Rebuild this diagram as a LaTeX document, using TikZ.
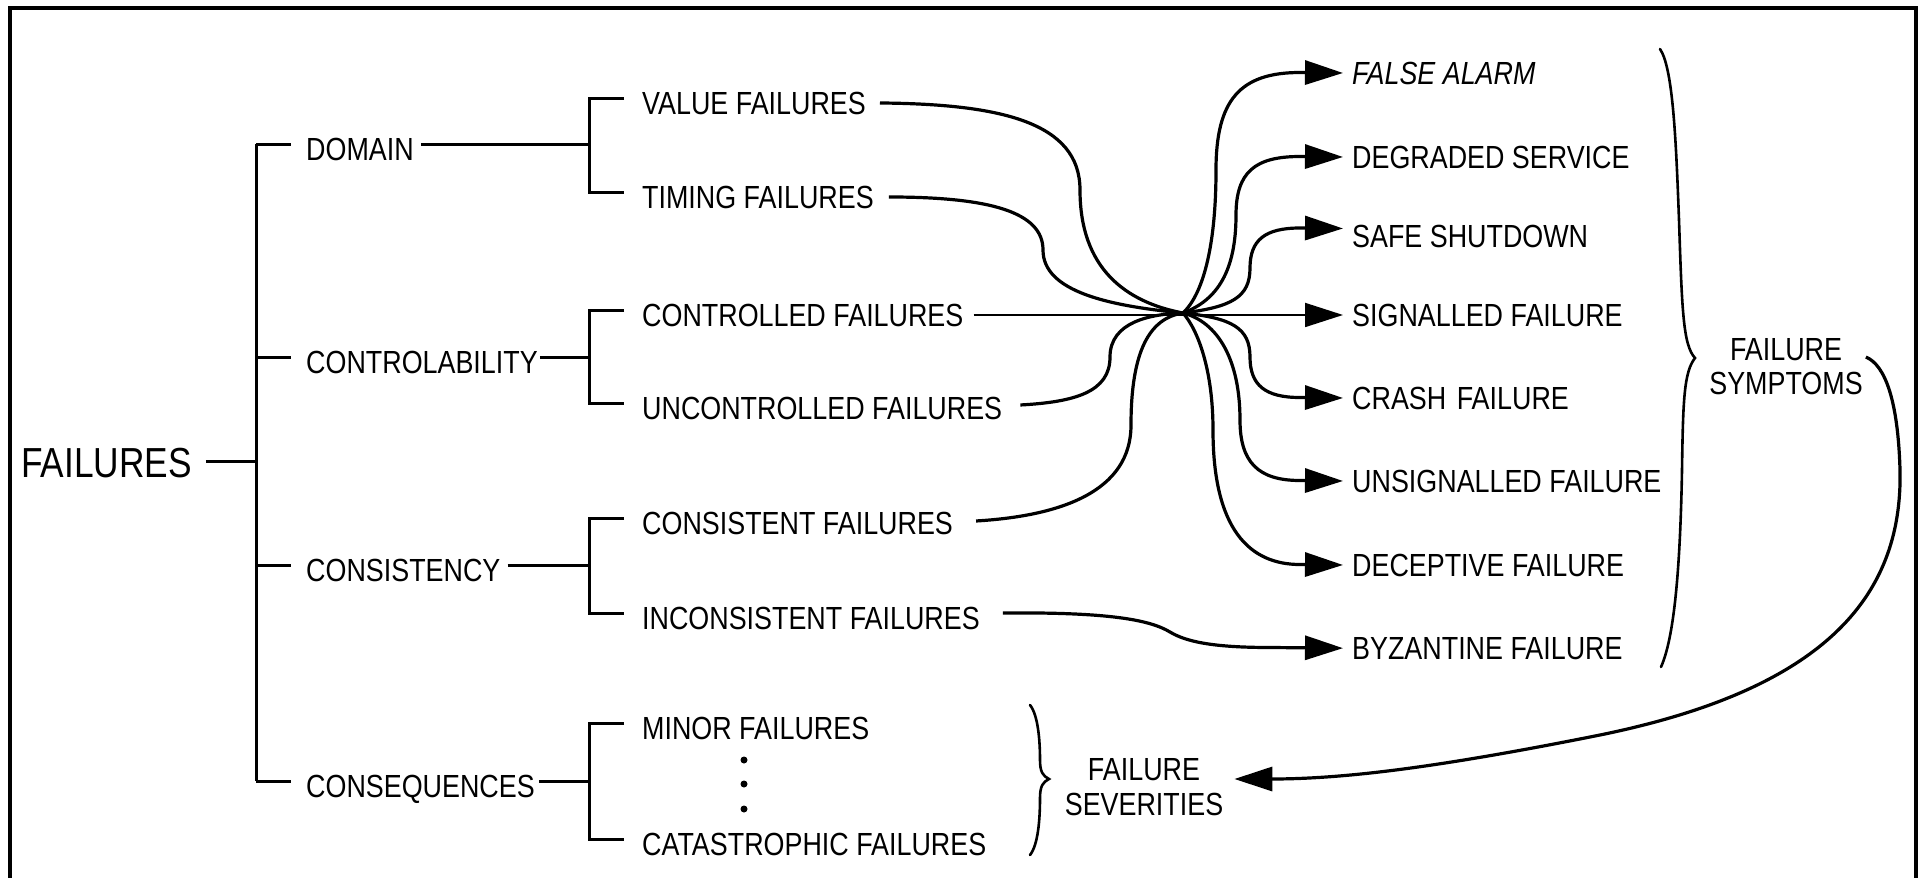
\documentclass[tikz,border=0pt]{standalone}
\usepackage{fontspec}
\setmainfont{Liberation Sans}[FakeStretch=0.84]
\usetikzlibrary{arrows.meta}
\begin{document}
\begin{tikzpicture}[x=1pt,y=-1pt,
  lbl/.style={inner sep=0pt, anchor=base west, font=\fontsize{32}{34}\selectfont},
  tree/.style={line width=3pt},
  flow/.style={line width=3.2pt},
  tip/.style={-{Triangle[length=38pt,width=24pt]}},
  brace/.style={line width=2.6pt, line cap=round},
]
\useasboundingbox (0,0) rectangle (1923,878);
\fill[white] (0,0) rectangle (1923,878);
% outer frame (open at the bottom edge)
\draw[line width=3.5pt] (10,878) -- (10,8) -- (1916,8) -- (1916,878);

% ---------- root ----------
\node[inner sep=0pt, anchor=base west, font=\fontsize{42}{44}\selectfont] (failures) at (21,477) {FAILURES};
\coordinate (r) at (256,461);

% ---------- first level ----------
\node[lbl] (domain)  at (306,160.5) {DOMAIN};
\node[lbl] (control) at (306,373.5) {CONTROLABILITY};
\node[lbl] (consist) at (306,581.5) {CONSISTENCY};
\node[lbl] (conseq)  at (306,797.5) {CONSEQUENCES};

\coordinate (k1) at (256,144);
\coordinate (k2) at (256,357);
\coordinate (k3) at (256,565);
\coordinate (k4) at (256,781);

\draw[tree] ([xshift=14pt]failures.east |- r) -- (r);
\draw[tree] (k1) -- (k4);
\foreach \k/\n in {k1/domain,k2/control,k3/consist,k4/conseq}
  \draw[tree] (\k) -- ([xshift=-15pt]\n.west |- \k);

% ---------- second level ----------
\node[lbl] (value)   at (642,114) {VALUE FAILURES};
\node[lbl] (timing)  at (642,208) {TIMING FAILURES};
\node[lbl] (ctrl)    at (642,326) {CONTROLLED FAILURES};
\node[lbl] (unctrl)  at (642,419) {UNCONTROLLED FAILURES};
\node[lbl] (cons)    at (642,534) {CONSISTENT FAILURES};
\node[lbl] (incons)  at (642,629) {INCONSISTENT FAILURES};
\node[lbl] (minor)   at (642,739) {MINOR FAILURES};
\node[lbl] (catas)   at (642,855) {CATASTROPHIC FAILURES};

\coordinate (b1) at (589,144);
\coordinate (b2) at (589,357);
\coordinate (b3) at (589,565);
\coordinate (b4) at (589,781);
\draw[tree] ([xshift=7pt]domain.east |- b1) -- (b1);
\draw[tree] ([xshift=2pt]control.east |- b2) -- (b2);
\draw[tree] ([xshift=7pt]consist.east |- b3) -- (b3);
\draw[tree] ([xshift=4pt]conseq.east |- b4) -- (b4);

\coordinate (v1) at (589,98);   \coordinate (v2) at (589,192);
\coordinate (c1) at (589,310);  \coordinate (c2) at (589,403);
\coordinate (s1) at (589,518);  \coordinate (s2) at (589,613);
\coordinate (q1) at (589,723);  \coordinate (q2) at (589,839);
\draw[tree] ([xshift=-18pt]value.west |- v1) -- (v1) -- (v2) -- ([xshift=-18pt]timing.west |- v2);
\draw[tree] ([xshift=-18pt]ctrl.west |- c1) -- (c1) -- (c2) -- ([xshift=-18pt]unctrl.west |- c2);
\draw[tree] ([xshift=-18pt]cons.west |- s1) -- (s1) -- (s2) -- ([xshift=-18pt]incons.west |- s2);
\draw[tree] ([xshift=-18pt]minor.west |- q1) -- (q1) -- (q2) -- ([xshift=-18pt]catas.west |- q2);

% ellipsis between minor and catastrophic
\foreach \y in {760,784,809} \fill (744,\y) circle (3.5pt);

% ---------- symptoms ----------
\node[lbl, font=\fontsize{32}{34}\selectfont\itshape] (fa) at (1352,84) {FALSE ALARM};
\node[lbl] (dg) at (1352,168) {DEGRADED SERVICE};
\node[lbl] (ss) at (1352,247) {SAFE SHUTDOWN};
\node[lbl] (sg) at (1352,326) {SIGNALLED FAILURE};
\node[lbl] (cr) at (1352,409) {CRASH\hspace{10.5pt}FAILURE};
\node[lbl] (us) at (1352,492) {UNSIGNALLED FAILURE};
\node[lbl] (dc) at (1352,576) {DECEPTIVE FAILURE};
\node[lbl] (bz) at (1352,659) {BYZANTINE FAILURE};

\coordinate (J) at (1183,313);

% inputs converging on the crossing point
\draw[flow] ([xshift=14pt]value.east) .. controls (1000,104) and (1080,122) .. (1080,190)
  .. controls (1080,268) and (1125,302) .. (J);
\draw[flow] ([xshift=15pt]timing.east) .. controls (990,197) and (1043,212) .. (1043,250)
  .. controls (1043,292) and (1110,306) .. (J);
\draw[flow] ([xshift=18pt,yshift=3pt]unctrl.east) .. controls (1075,402) and (1110,392) .. (1110,357)
  .. controls (1110,322) and (1150,314) .. (J);
\draw[flow] ([xshift=23pt,yshift=2pt]cons.east) .. controls (1060,516) and (1131,492) .. (1131,425)
  .. controls (1131,350) and (1150,318) .. (J);

% straight controlled -> signalled
\draw[line width=1.8pt, tip] ([xshift=10pt]ctrl.east) -- ([xshift=-9pt]sg.west);

% outputs leaving the crossing point
\draw[flow, tip] (J) .. controls (1205,292) and (1216,240) .. (1216,170)
  .. controls (1216,100) and (1240,72.5) .. (1300,72.5) -- ([xshift=-9pt]fa.west);
\draw[flow, tip] (J) .. controls (1218,300) and (1236,270) .. (1236,215)
  .. controls (1236,172) and (1255,156.5) .. (1300,156.5) -- ([xshift=-9pt]dg.west);
\draw[flow, tip] (J) .. controls (1232,307) and (1250,297) .. (1250,268)
  .. controls (1250,240) and (1265,228) .. (1300,228) -- ([xshift=-9pt,yshift=7.5pt]ss.west);
\draw[flow, tip] (J) .. controls (1232,318) and (1250,328) .. (1250,357)
  .. controls (1250,385) and (1265,397.5) .. (1300,397.5) -- ([xshift=-9pt]cr.west);
\draw[flow, tip] (J) .. controls (1218,322) and (1240,360) .. (1240,420)
  .. controls (1240,462) and (1258,480.5) .. (1300,480.5) -- ([xshift=-9pt]us.west);
\draw[flow, tip] (J) .. controls (1198,330) and (1213,370) .. (1213,430)
  .. controls (1213,530) and (1250,564.5) .. (1300,564.5) -- ([xshift=-9pt]dc.west);

% inconsistent -> byzantine
\draw[flow, tip] ([xshift=23pt,yshift=5pt]incons.east) .. controls (1110,612) and (1150,620) .. (1170,632)
  .. controls (1185,641) and (1210,647.5) .. (1270,647.5) -- ([xshift=-9pt]bz.west);

% ---------- group labels and braces ----------
\node[inner sep=0pt, align=center, font=\fontsize{32}{34}\selectfont] (sympt) at (1786,367) {FAILURE\\SYMPTOMS};
\node[inner sep=0pt, align=center, font=\fontsize{32}{35}\selectfont] (sev) at (1144,787) {FAILURE\\SEVERITIES};

\draw[brace] (1660,49) .. controls (1673,68) and (1676,140) .. (1679,220)
  .. controls (1682,310) and (1683,345) .. (1695,358)
  .. controls (1684,372) and (1683,400) .. (1682,470)
  .. controls (1680,580) and (1673,640) .. (1661,667);

\draw[brace] (1030,705) .. controls (1038,715) and (1040,740) .. (1040,760)
  .. controls (1040,772) and (1043,776) .. (1049,779)
  .. controls (1043,782) and (1040,786) .. (1040,798)
  .. controls (1040,820) and (1038,845) .. (1030,855);

% symptoms feed back to severities
\draw[flow, tip] ([xshift=3pt,yshift=10pt]sympt.east) .. controls (1885,365) and (1898,400) .. (1900,470)
  .. controls (1903,600) and (1820,690) .. (1600,735)
  .. controls (1450,765) and (1350,779) .. ([xshift=11pt,yshift=8pt]sev.east);
\end{tikzpicture}
\end{document}
